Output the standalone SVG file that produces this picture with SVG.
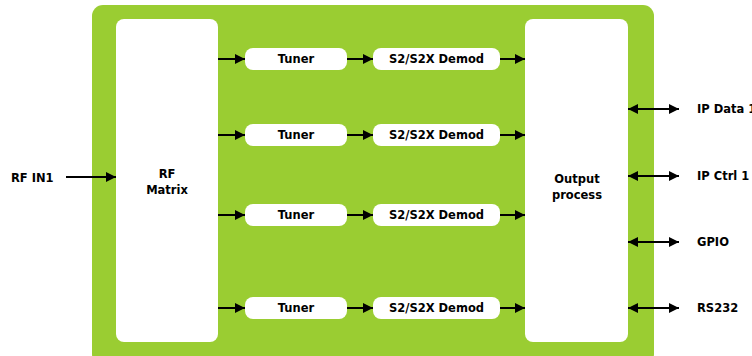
<svg xmlns="http://www.w3.org/2000/svg" width="752" height="356" viewBox="0 0 752 356">
<defs>
<marker id="ah" viewBox="0 0 10 10" refX="10" refY="5" markerWidth="10" markerHeight="10" markerUnits="userSpaceOnUse" orient="auto-start-reverse">
<path d="M0,0 L10,5 L0,10 z" fill="#000"/>
</marker>
<style>
.box{fill:#fff}
.t{font-family:"DejaVu Sans",sans-serif;font-weight:bold;font-size:11.5px;fill:#000}
.c{text-anchor:middle}
.ln{stroke:#000;stroke-width:2;fill:none;marker-end:url(#ah)}
.bi{stroke:#000;stroke-width:2;fill:none;marker-end:url(#ah);marker-start:url(#ah)}
</style>
</defs>
<rect id="board" x="92" y="5" width="562" height="360" rx="11" fill="#9acd32"/>
<g id="rfmatrix"><rect class="box" x="116" y="19" width="102" height="323" rx="8"/><text class="t c" x="167" y="178">RF</text><text class="t c" x="167" y="194">Matrix</text></g>
<g id="output"><rect class="box" x="525" y="19" width="103" height="323" rx="8"/><text class="t c" x="577" y="183">Output</text><text class="t c" x="577" y="199">process</text></g>
<g id="tuner1"><rect class="box" x="245" y="48" width="102" height="22" rx="8"/><text class="t c" x="296" y="63">Tuner</text></g>
<g id="tuner2"><rect class="box" x="245" y="124" width="102" height="22" rx="8"/><text class="t c" x="296" y="139">Tuner</text></g>
<g id="tuner3"><rect class="box" x="245" y="204" width="102" height="22" rx="8"/><text class="t c" x="296" y="219">Tuner</text></g>
<g id="tuner4"><rect class="box" x="245" y="297" width="102" height="22" rx="8"/><text class="t c" x="296" y="312">Tuner</text></g>
<g id="demod1"><rect class="box" x="373" y="48" width="127" height="22" rx="8"/><text class="t c" x="436.5" y="63">S2/S2X Demod</text></g>
<g id="demod2"><rect class="box" x="373" y="124" width="127" height="22" rx="8"/><text class="t c" x="436.5" y="139">S2/S2X Demod</text></g>
<g id="demod3"><rect class="box" x="373" y="204" width="127" height="22" rx="8"/><text class="t c" x="436.5" y="219">S2/S2X Demod</text></g>
<g id="demod4"><rect class="box" x="373" y="297" width="127" height="22" rx="8"/><text class="t c" x="436.5" y="312">S2/S2X Demod</text></g>
<g id="lbl-rfin"><text class="t" x="11" y="182">RF IN1</text></g>
<g id="lbl-ipdata"><text class="t" x="697" y="113">IP Data 1</text></g>
<g id="lbl-ipctrl"><text class="t" x="697" y="180">IP Ctrl 1</text></g>
<g id="lbl-gpio"><text class="t" x="697" y="246">GPIO</text></g>
<g id="lbl-rs232"><text class="t" x="697" y="312">RS232</text></g>
<g id="connectors">
<line class="ln" x1="66" y1="177" x2="116" y2="177"/>
<line class="ln" x1="218" y1="59" x2="245" y2="59"/>
<line class="ln" x1="218" y1="135" x2="245" y2="135"/>
<line class="ln" x1="218" y1="215" x2="245" y2="215"/>
<line class="ln" x1="218" y1="308" x2="245" y2="308"/>
<line class="ln" x1="347" y1="59" x2="373" y2="59"/>
<line class="ln" x1="347" y1="135" x2="373" y2="135"/>
<line class="ln" x1="347" y1="215" x2="373" y2="215"/>
<line class="ln" x1="347" y1="308" x2="373" y2="308"/>
<line class="ln" x1="500" y1="59" x2="525" y2="59"/>
<line class="ln" x1="500" y1="135" x2="525" y2="135"/>
<line class="ln" x1="500" y1="215" x2="525" y2="215"/>
<line class="ln" x1="500" y1="308" x2="525" y2="308"/>
<line class="bi" x1="628" y1="109" x2="679" y2="109"/>
<line class="bi" x1="628" y1="176" x2="679" y2="176"/>
<line class="bi" x1="628" y1="242" x2="679" y2="242"/>
<line class="bi" x1="628" y1="308" x2="679" y2="308"/>
</g>
</svg>
